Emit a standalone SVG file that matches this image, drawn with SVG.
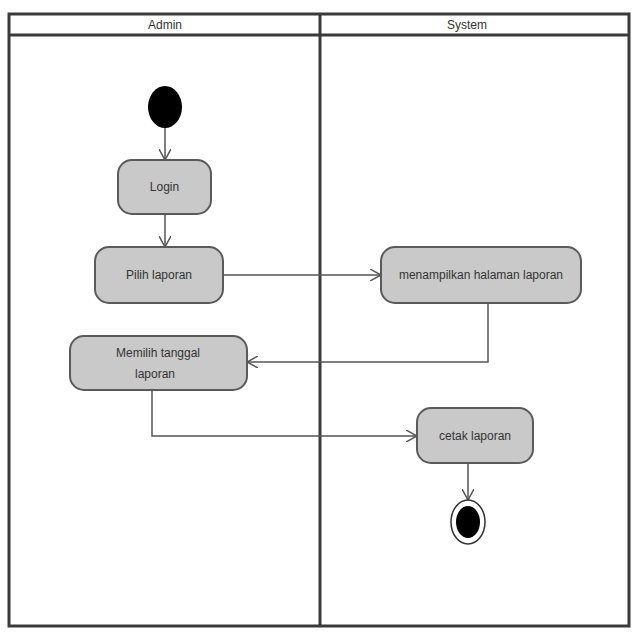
<svg xmlns="http://www.w3.org/2000/svg" width="640" height="640" viewBox="0 0 640 640">
<defs>
<style>
.lane{fill:none;stroke:#3a3a3a;stroke-width:3}
.hdr{font-family:"Liberation Sans",Arial,sans-serif;font-size:12px;fill:#333;text-anchor:middle}
.act{fill:#c9c9c9;stroke:#5a5a5a;stroke-width:2}
.lbl{font-family:"Liberation Sans",Arial,sans-serif;font-size:12px;fill:#333;text-anchor:middle}
.edge{fill:none;stroke:#555;stroke-width:1.5}
</style>
<marker id="arr" viewBox="0 0 12 12" refX="11" refY="6" markerWidth="12" markerHeight="12" markerUnits="userSpaceOnUse" orient="auto">
<path d="M0,0 L11,6 L0,12" fill="none" stroke="#555" stroke-width="1.5"/>
</marker>
</defs>
<rect width="640" height="640" fill="#fff"/>
<g id="swimlanes">
<rect class="lane" x="9" y="14" width="620" height="612"/>
<line class="lane" x1="9" y1="35" x2="629" y2="35"/>
<line class="lane" x1="320" y1="14" x2="320" y2="626"/>
<text class="hdr" x="165" y="29">Admin</text>
<text class="hdr" x="467" y="29">System</text>
</g>
<g id="connectors">
<path class="edge" d="M165,128 V160" marker-end="url(#arr)"/>
<path class="edge" d="M165,214 V247" marker-end="url(#arr)"/>
<path class="edge" d="M223,275 H381" marker-end="url(#arr)"/>
<path class="edge" d="M488,303 V362 H247" marker-end="url(#arr)"/>
<path class="edge" d="M152,390 V436 H417" marker-end="url(#arr)"/>
<path class="edge" d="M468,463 V500" marker-end="url(#arr)"/>
</g>
<g id="start">
<ellipse cx="165" cy="107" rx="17" ry="21" fill="#000"/>
</g>
<g id="login">
<rect class="act" x="118" y="160" width="93" height="54" rx="14"/>
<text class="lbl" x="164.5" y="191">Login</text>
</g>
<g id="pilih-laporan">
<rect class="act" x="95" y="247" width="128" height="56" rx="14"/>
<text class="lbl" x="159" y="279">Pilih laporan</text>
</g>
<g id="menampilkan">
<rect class="act" x="381" y="247" width="200" height="56" rx="14"/>
<text class="lbl" x="481" y="279">menampilkan halaman laporan</text>
</g>
<g id="memilih">
<rect class="act" x="70" y="336" width="177" height="54" rx="14"/>
<text class="lbl" x="158" y="357">Memilih tanggal</text>
<text class="lbl" x="155" y="378">laporan</text>
</g>
<g id="cetak">
<rect class="act" x="417" y="408" width="116" height="55" rx="14"/>
<text class="lbl" x="475" y="440">cetak laporan</text>
</g>
<g id="end">
<ellipse cx="468" cy="522" rx="17" ry="22" fill="#fff" stroke="#333" stroke-width="1.5"/>
<ellipse cx="468" cy="522" rx="12" ry="16" fill="#000"/>
</g>
</svg>
